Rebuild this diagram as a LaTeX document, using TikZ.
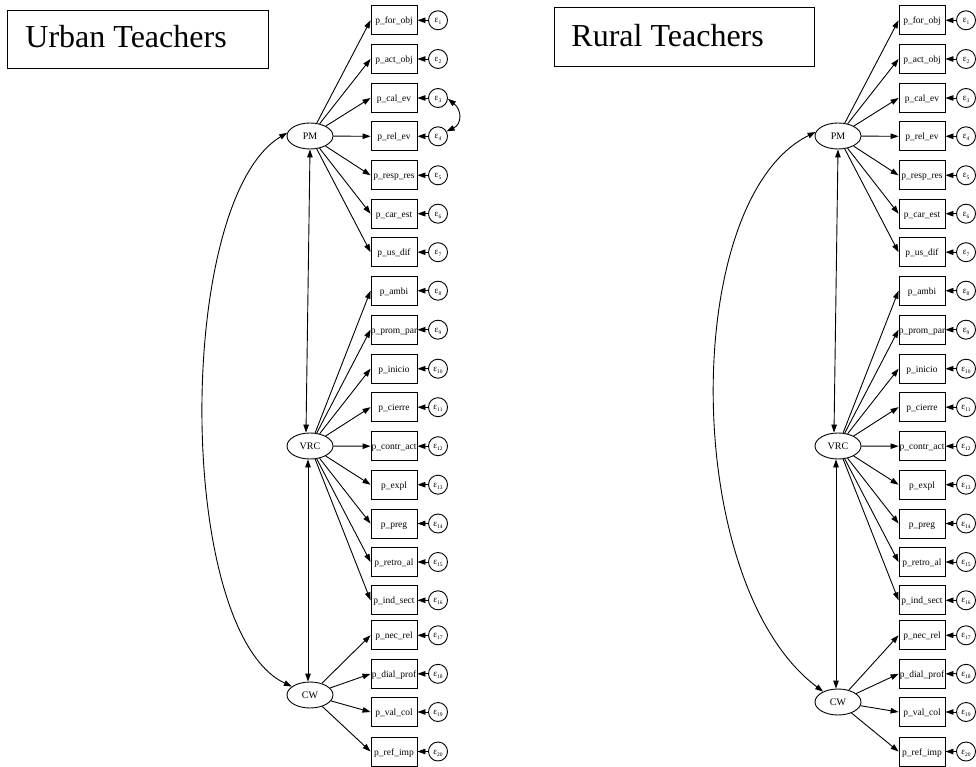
\documentclass[tikz,border=0pt]{standalone}
\usepackage{fontspec}
\setmainfont{Liberation Serif}
\usetikzlibrary{arrows.meta,shapes.geometric,calc}

% error term label: epsilon with a small index
\newcommand\epsnum[1]{{\fontsize{9}{9}\selectfont ε}\raisebox{-2pt}{\fontsize{5.5}{5.5}\selectfont #1}}

% one measurement model: #1 name prefix, #2 horizontal offset, #3 height of CW
\newcommand\sempanel[3]{%
  \foreach \lab/\yy [count=\i] in {p\_for\_obj/20.3, p\_act\_obj/59, p\_cal\_ev/98,
      p\_rel\_ev/136.3, p\_resp\_res/175.3, p\_car\_est/213.7, p\_us\_dif/252.2,
      p\_ambi/290.7, p\_prom\_par/329.7, p\_inicio/368.7, p\_cierre/407.2,
      p\_contr\_act/446.2, p\_expl/484.7, p\_preg/523.5, p\_retro\_al/562,
      p\_ind\_sect/600.3, p\_nec\_rel/635.3, p\_dial\_prof/673.8, p\_val\_col/712,
      p\_ref\_imp/751.5} {
    \node[obsbox] (#1b\i) at ({#2+394},\yy) {\makebox[0pt]{\lab}};
    \node[errnode] (#1e\i) at ({#2+438},\yy) {\epsnum{\i}};
    \draw[link] (#1e\i) -- (#1b\i);
  }
  \node[latent] (#1PM)  at ({#2+310},136) {PM};
  \node[latent] (#1VRC) at ({#2+310},446) {VRC};
  \node[latent] (#1CW)  at ({#2+310},#3) {CW};
  \foreach \i in {1,...,7}   {\draw[link] (#1PM) -- (#1b\i.west);}
  \foreach \i in {8,...,16}  {\draw[link] (#1VRC) -- (#1b\i.west);}
  \foreach \i in {17,...,20} {\draw[link] (#1CW) -- (#1b\i.west);}
  \draw[cov] (#1PM.south) -- ($(#1VRC.north)+(-4pt,0)$);
  \draw[cov] ($(#1VRC.south)+(-2pt,0)$) -- ($(#1CW.north)+(-2pt,0)$);
}

\begin{document}
\begin{tikzpicture}[x=1pt,y=-1pt,line width=0.9pt,
    >={Triangle[length=8pt,width=5.5pt]},
    obsbox/.style={draw,rectangle,minimum width=46pt,minimum height=29pt,
      inner sep=0pt,text height=7pt,text depth=0pt,
      font=\fontsize{9.5}{10}\selectfont},
    latent/.style={draw,ellipse,minimum width=46pt,minimum height=26pt,
      inner sep=0pt,font=\fontsize{10}{11}\selectfont},
    errnode/.style={draw,circle,minimum size=19pt,inner sep=0pt,
      text height=5.5pt,text depth=0.5pt},
    link/.style={->},
    cov/.style={<->},
    titletext/.style={anchor=base west,inner sep=0pt,font=\fontsize{32}{34}\selectfont}]
  \useasboundingbox (0,0) rectangle (976,767);

  % urban teachers
  \draw (7,10) rectangle (268,68);
  \node[titletext] (urban) at (25,48) {Urban Teachers};
  \sempanel{U}{0}{695}
  \draw[cov] (UPM.172) .. controls (175,200) and (175,631) .. (UCW.155);
  \draw[cov] (Ue3.-5) .. controls (462,110) and (462,124) .. (Ue4.30);

  % rural teachers
  \draw (554,7) rectangle (814,66);
  \node[titletext] (rural) at (571,46.7) {Rural Teachers};
  \sempanel{R}{528}{702}
  \draw[cov] (RPM.170) .. controls (680,199) and (680,584) .. (RCW.145);
\end{tikzpicture}
\end{document}
